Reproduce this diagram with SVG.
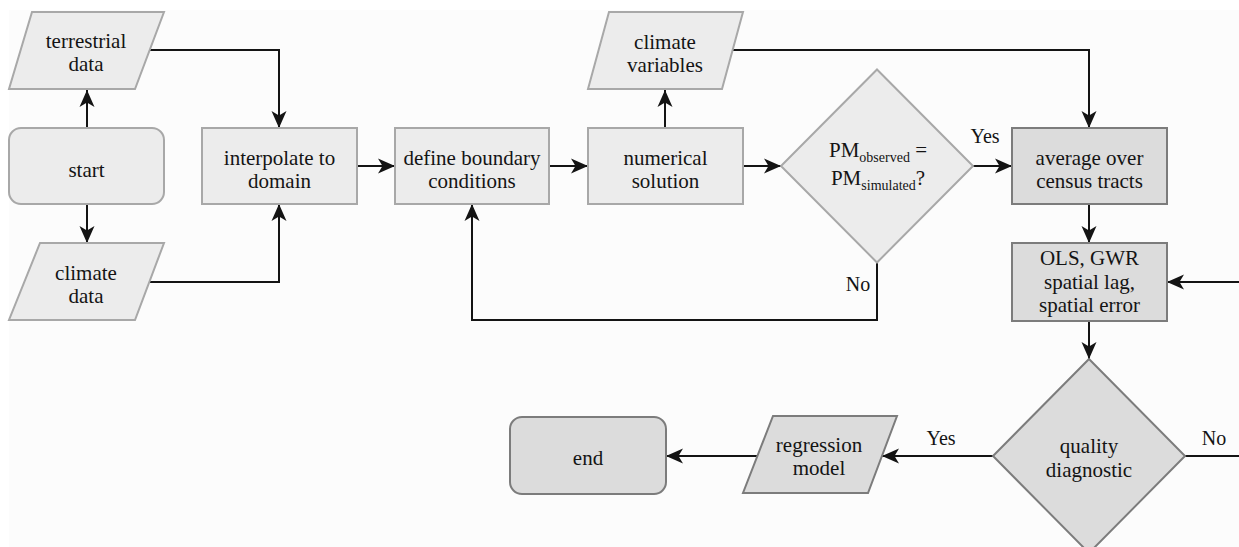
<svg xmlns="http://www.w3.org/2000/svg" width="1239" height="547" viewBox="0 0 1239 547">
<style>
  .light { fill: #ececec; stroke: #a8a8a8; stroke-width: 2; }
  .dark { fill: #dcdcdc; stroke: #7c7c7c; stroke-width: 2; }
  text { font-family: "Liberation Serif", "Times New Roman", serif; fill: #141414; text-anchor: middle; }
  .t { font-size: 21px; }
  .lbl { font-size: 20px; }
  .sub { font-size: 14px; }
  .edge { fill: none; stroke: #141414; stroke-width: 2; marker-end: url(#arr); }
</style>
<defs>
  <marker id="arr" markerUnits="userSpaceOnUse" markerWidth="17" markerHeight="16" viewBox="0 0 17 16" refX="17" refY="8" orient="auto">
    <path d="M0,0.5 L17,8 L0,15.5 L4.5,8 Z" fill="#141414"/>
  </marker>
</defs>
<rect x="0" y="0" width="1239" height="547" fill="#ffffff"/>
<rect x="9" y="10" width="1230" height="537" fill="#fcfcfc"/>

<g id="connectors">
  <path class="edge" d="M87,128 V90"/>
  <path class="edge" d="M87,204 V243"/>
  <path class="edge" d="M150,50 H279 V128"/>
  <path class="edge" d="M150,282 H279 V204"/>
  <path class="edge" d="M357,166 H395"/>
  <path class="edge" d="M549,166 H588"/>
  <path class="edge" d="M665,128 V90"/>
  <path class="edge" d="M730,50 H1089 V128"/>
  <path class="edge" d="M743,166 H781"/>
  <path class="edge" d="M973,166 H1012"/>
  <path class="edge" d="M877,262 V320 H472 V204"/>
  <path class="edge" d="M1089,204 V243"/>
  <path class="edge" d="M1089,321 V359"/>
  <path class="edge" d="M993,456 H882"/>
  <path class="edge" d="M757,456 H666"/>
  <path class="edge" d="M1185,456 H1260 V282 H1167"/>
  <text class="lbl" x="985" y="143">Yes</text>
  <text class="lbl" x="858" y="291">No</text>
  <text class="lbl" x="941" y="445">Yes</text>
  <text class="lbl" x="1214" y="445">No</text>
</g>

<g id="terrestrial-data">
  <polygon class="light" points="32,12 164,12 135,89 9,89"/>
  <text class="t" x="86" y="48">terrestrial</text>
  <text class="t" x="86" y="71">data</text>
</g>
<g id="start">
  <rect class="light" x="9" y="128" width="155" height="76" rx="12" ry="12"/>
  <text class="t" x="86.5" y="177">start</text>
</g>
<g id="climate-data">
  <polygon class="light" points="40,243 164,243 135,320 9,320"/>
  <text class="t" x="86" y="280">climate</text>
  <text class="t" x="86" y="303">data</text>
</g>
<g id="interpolate">
  <rect class="light" x="202" y="128" width="155" height="76"/>
  <text class="t" x="279.5" y="165">interpolate to</text>
  <text class="t" x="279.5" y="188">domain</text>
</g>
<g id="define-boundary">
  <rect class="light" x="395" y="128" width="154" height="76"/>
  <text class="t" x="472" y="165">define boundary</text>
  <text class="t" x="472" y="188">conditions</text>
</g>
<g id="numerical-solution">
  <rect class="light" x="588" y="128" width="155" height="76"/>
  <text class="t" x="665.5" y="165">numerical</text>
  <text class="t" x="665.5" y="188">solution</text>
</g>
<g id="climate-variables">
  <polygon class="light" points="609,12 743,12 722,89 588,89"/>
  <text class="t" x="665" y="49">climate</text>
  <text class="t" x="665" y="72">variables</text>
</g>
<g id="pm-check">
  <polygon class="light" points="877,69.5 973,166 877,262.5 781,166"/>
  <text class="t" x="878" y="157">PM<tspan class="sub" dy="5">observed</tspan><tspan dy="-5"> =</tspan></text>
  <text class="t" x="878" y="185">PM<tspan class="sub" dy="5">simulated</tspan><tspan dy="-5">?</tspan></text>
</g>
<g id="average">
  <rect class="dark" x="1012" y="128" width="155" height="76"/>
  <text class="t" x="1089.5" y="165">average over</text>
  <text class="t" x="1089.5" y="188">census tracts</text>
</g>
<g id="regression-methods">
  <rect class="dark" x="1012" y="243" width="155" height="78"/>
  <text class="t" x="1089.5" y="265">OLS, GWR</text>
  <text class="t" x="1089.5" y="289">spatial lag,</text>
  <text class="t" x="1089.5" y="312">spatial error</text>
</g>
<g id="quality-diagnostic">
  <polygon class="dark" points="1089,359 1185,456 1089,553 993,456"/>
  <text class="t" x="1089" y="453">quality</text>
  <text class="t" x="1089" y="477">diagnostic</text>
</g>
<g id="regression-model">
  <polygon class="dark" points="773,416 897,416 868,493 743,493"/>
  <text class="t" x="819" y="452">regression</text>
  <text class="t" x="819" y="475">model</text>
</g>
<g id="end">
  <rect class="dark" x="510" y="417" width="156" height="77" rx="12" ry="12"/>
  <text class="t" x="588" y="465">end</text>
</g>
</svg>
